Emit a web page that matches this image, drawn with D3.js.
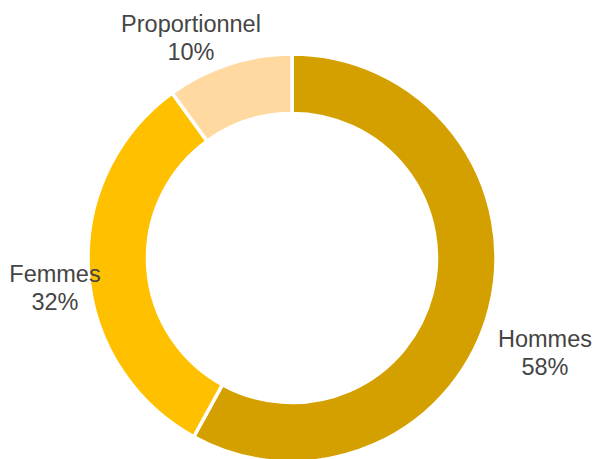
<!DOCTYPE html>
<html>
<head>
<meta charset="utf-8">
<script src="https://cdn.jsdelivr.net/npm/d3@7"></script>
<style>
  html, body { margin: 0; padding: 0; background: #ffffff; }
  svg { display: block; }
</style>
</head>
<body>
<svg id="chart" width="595" height="459"></svg>
<script>
// Répartition par catégorie (%)
const categories = ["Hommes", "Femmes", "Proportionnel"];
const values = [58, 32, 10];
const colors = ["#D4A000", "#FFC000", "#FFD9A0"];

// Label anchor points (centre of the two-line label block, first baseline)
const labelPos = [
  { x: 545, y: 347 },
  { x: 55, y: 282 },
  { x: 191, y: 32 }
];

const width = 595, height = 459;
const cx = 292, cy = 258;
const outerR = 204, innerR = 144.5;

const svg = d3.select("#chart");

const data = categories.map((c, i) => ({ name: c, value: values[i], color: colors[i], pos: labelPos[i] }));

const pie = d3.pie().sort(null).value(d => d.value).startAngle(0).endAngle(2 * Math.PI);
const arc = d3.arc().innerRadius(innerR).outerRadius(outerR);

const g = svg.append("g").attr("transform", `translate(${cx},${cy})`);

g.selectAll("path.slice")
  .data(pie(data))
  .join("path")
  .attr("class", "slice")
  .attr("d", arc)
  .attr("fill", d => d.data.color)
  .attr("stroke", "#ffffff")
  .attr("stroke-width", 3.5)
  .attr("stroke-linejoin", "miter");

// Category and percentage labels
const labels = svg.selectAll("text.lbl")
  .data(data)
  .join("text")
  .attr("class", "lbl")
  .attr("text-anchor", "middle")
  .attr("font-family", "'Liberation Sans', Arial, sans-serif")
  .attr("font-size", "23.5px")
  .attr("fill", "#454545");

labels.append("tspan")
  .attr("x", d => d.pos.x)
  .attr("y", d => d.pos.y)
  .text(d => d.name);

labels.append("tspan")
  .attr("x", d => d.pos.x)
  .attr("y", d => d.pos.y + 27.5)
  .text(d => d.value + "%");
</script>
</body>
</html>
